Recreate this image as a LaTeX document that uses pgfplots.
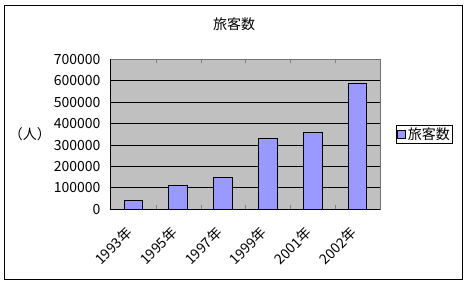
\documentclass[border=0pt]{standalone}
\usepackage{fontspec}
\setmainfont{Noto Sans CJK JP}
\usepackage{pgfplots}
\pgfplotsset{compat=1.18}
\definecolor{plotbg}{HTML}{C0C0C0}
\definecolor{barfill}{HTML}{9999FF}
\newcommand{\cf}{\fontsize{14bp}{16bp}\selectfont}
\begin{document}
\begin{tikzpicture}
\useasboundingbox (-111bp,-74.7bp) rectangle (357bp,209.3bp);
\draw[black, line width=1bp] (-106bp,-69.7bp) rectangle (351.7bp,204bp);
\node[font=\cf] at (123bp,185.3bp) {旅客数};
\node[font=\cf] at (-81bp,75.3bp) {（人）};
\begin{axis}[
  at={(0,0)}, anchor=south west,
  scale only axis, width=269bp, height=150bp,
  xmin=-0.5, xmax=5.5, ymin=0, ymax=700000,
  ybar, bar width=18.5bp,
  xtick={0,1,2,3,4,5},
  xticklabels={1993年,1995年,1997年,1999年,2001年,2002年},
  major x tick style={draw=none},
  minor xtick={0.5,1.5,2.5,3.5,4.5},
  minor tick length=4bp,
  tick align=inside,
  ytick={0,100000,200000,300000,400000,500000,600000,700000},
  major y tick style={draw=none},
  ymajorgrids, grid style={black, line width=1bp},
  axis background/.style={fill=plotbg},
  axis line style={draw=gray!90!black, line width=1bp},
  scaled y ticks=false,
  /pgf/number format/assume math mode=true,
  yticklabel style={/pgf/number format/fixed, /pgf/number format/1000 sep={}, xshift=-7bp},
  ticklabel style={font=\cf},
  xticklabel style={rotate=45, anchor=north east, xshift=-14bp, yshift=-2bp},
  legend style={at={(1.0595,0.565)}, anchor=north west, draw=black, line width=1bp, font=\cf, inner sep=0.5bp, row sep=0pt},
  legend image code/.code={\draw[black, line width=1bp, fill=barfill] (0bp,-4bp) rectangle (8bp,4bp);},
  clip=false,
]
\addplot[fill=barfill, draw=black, line width=1bp] coordinates {(0,42000) (1,112000) (2,150000) (3,331000) (4,359000) (5,588000)};
\addlegendentry{旅客数}
\draw[black, line width=1bp] (rel axis cs:0,1) -- (rel axis cs:0,0) -- (rel axis cs:1,0);
\end{axis}
\end{tikzpicture}
\end{document}
